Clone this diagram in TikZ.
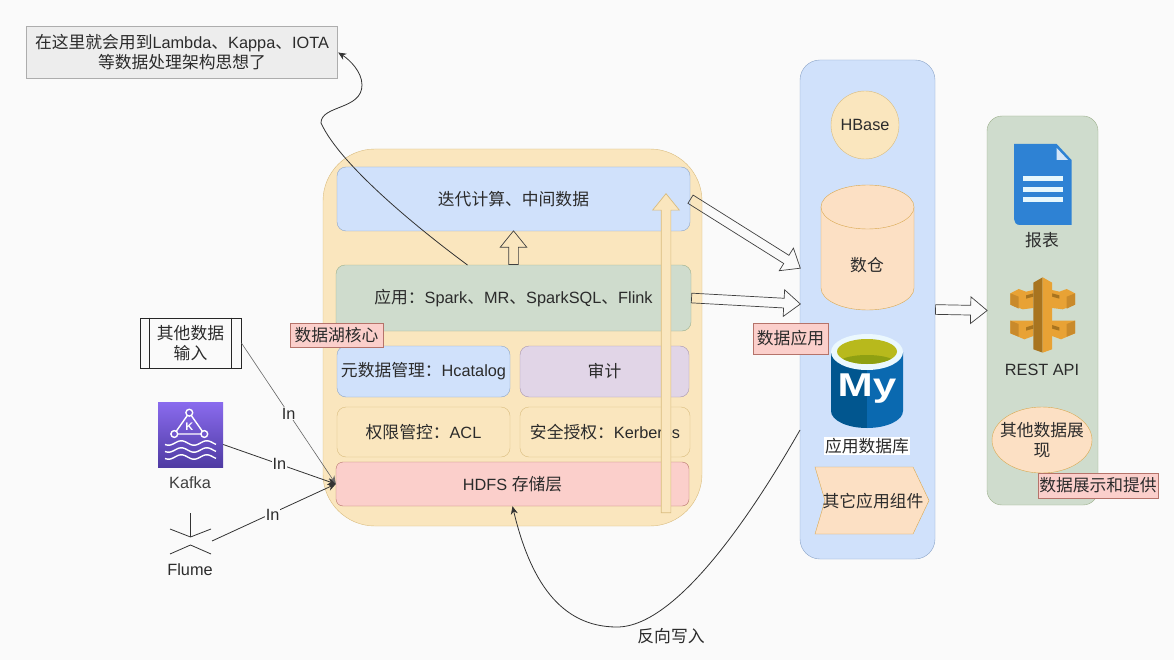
\documentclass[tikz,border=0pt]{standalone}
\usepackage{fontspec}
\setmainfont{Liberation Sans}
\newfontfamily\cjk[Scale=1.03]{Noto Sans CJK SC}
\usepackage{tikz}
\usetikzlibrary{arrows.meta}
\usetikzlibrary{calc}
\usetikzlibrary{shapes.arrows}
\usetikzlibrary{shapes.geometric}
\usetikzlibrary{positioning}

\definecolor{pagebg}{HTML}{FAFAFA}
\definecolor{lakefill}{HTML}{FAE6BE}
\definecolor{lakeline}{HTML}{D9BC7E}
\definecolor{bluefill}{HTML}{D0E1FB}
\definecolor{blueline}{HTML}{8CA5C8}
\definecolor{greenfill}{HTML}{CFDCCD}
\definecolor{greenline}{HTML}{9DB08C}
\definecolor{purplefill}{HTML}{E1D5E7}
\definecolor{purpleline}{HTML}{A896B0}
\definecolor{redfill}{HTML}{FBCFCB}
\definecolor{redline}{HTML}{B5736A}
\definecolor{peachfill}{HTML}{FCE0C4}
\definecolor{peachline}{HTML}{D9A850}
\definecolor{inktext}{HTML}{2B2B2B}
\definecolor{kafkatop}{HTML}{8A6BEE}
\definecolor{kafkalow}{HTML}{4F3BA3}
\definecolor{mydark}{HTML}{01568F}
\definecolor{mylight}{HTML}{0A69B0}
\definecolor{olivetop}{HTML}{B8B91C}
\definecolor{olivelow}{HTML}{8FA012}
\definecolor{docblue}{HTML}{2E82D4}
\definecolor{docfold}{HTML}{D5E6F8}
\definecolor{apilight}{HTML}{E8A235}
\definecolor{apimid}{HTML}{C98A2B}
\definecolor{apidark}{HTML}{A8741F}

\newcommand{\zh}[1]{{\cjk #1}}
\newcommand{\flowarrow}[3][]{%
  \path let \p1=($(#3)-(#2)$), \n1={veclen(\x1,\y1)}, \n2={atan2(\y1,\x1)} in
    node[blockarrow,#1,minimum height=\n1,rotate=\n2,anchor=tail] at (#2) {};}

\tikzset{
  panel/.style={draw,rounded corners=#1,inner sep=0pt,align=center,text=inktext},
  bluebox/.style={panel=9pt,fill=bluefill,draw=blueline},
  greenbox/.style={panel=9pt,fill=greenfill,draw=greenline},
  purplebox/.style={panel=9pt,fill=purplefill,draw=purpleline},
  lakebox/.style={panel=9pt,fill=lakefill,draw=lakeline},
  redbox/.style={panel=7pt,fill=redfill,draw=redline},
  tagbox/.style={draw=redline,fill=redfill,inner sep=0pt,text=inktext},
  plaintext/.style={inner sep=0pt,text=inktext},
  blockarrow/.style={single arrow,draw=black!75,inner xsep=0pt,inner ysep=4.5pt,minimum width=26pt,
    single arrow head extend=8.5pt,single arrow tip angle=78,line width=.7pt},
  inlabel/.style={fill=pagebg,inner sep=1pt,text=inktext},
  thinline/.style={draw=black!80,line width=.8pt},
  tipline/.style={thinline,-{Stealth[length=8pt,width=7pt]}}
}

\begin{document}
\begin{tikzpicture}[x=1pt,y=-1pt,every node/.style={font=\fontsize{16.3}{20}\selectfont}]
\useasboundingbox (0,0) rectangle (1174,660);
\fill[pagebg] (0,0) rectangle (1174,660);

\node[draw=black!32,fill=black!7,line width=1.4pt,minimum width=311pt,minimum height=52pt,
  inner sep=0pt,align=center,text=inktext] (note) at (182,52.5)
  {\zh{在这里就会用到}Lambda\zh{、}Kappa\zh{、}IOTA\\\zh{等数据处理架构思想了}};

% data lake
\node[panel=52pt,fill=lakefill,draw=lakeline,minimum width=379pt,minimum height=377pt] (lake) at (512.5,337.5) {};
\node[bluebox,minimum width=353pt,minimum height=64pt] (iter) at (513.5,199) {\zh{迭代计算、中间数据}};
\node[greenbox,minimum width=355pt,minimum height=66pt] (app) at (513.5,298) {\zh{应用：}Spark\zh{、}MR\zh{、}SparkSQL\zh{、}Flink};
\node[bluebox,minimum width=173pt,minimum height=51pt] (meta) at (423.5,371.5) {\zh{元数据管理：}Hcatalog};
\node[purplebox,minimum width=169pt,minimum height=51pt] (audit) at (604.5,371.5) {\zh{审计}};
\node[lakebox,minimum width=173pt,minimum height=50pt] (acl) at (423.5,432) {\zh{权限管控：}ACL};
\node[lakebox,minimum width=170pt,minimum height=50pt] (auth) at (605,432) {\zh{安全授权：}Kerberos};
\node[redbox,minimum width=353pt,minimum height=44pt] (hdfs) at (512.5,484) {HDFS \zh{存储层}};
\node[tagbox,minimum width=93pt,minimum height=24pt] (laketag) at (336.5,335) {\zh{数据湖核心}};

% inputs
\node[draw=black!85,line width=.9pt,minimum width=101pt,minimum height=50pt,inner sep=0pt,
  align=center,text=inktext] (other) at (190.5,343) {\zh{其他数据}\\\zh{输入}};
\draw[black!85,line width=.9pt] ($(other.north west)+(10,0)$) -- ($(other.south west)+(10,0)$);
\draw[black!85,line width=.9pt] ($(other.north east)+(-10,0)$) -- ($(other.south east)+(-10,0)$);

\node[top color=kafkatop,bottom color=kafkalow,minimum size=65pt,inner sep=0pt] (kafka) at (190.5,434.5) {};
\begin{scope}[white,line width=1.4pt]
\draw (189.3,412.7) -- (174.3,434) -- (204.3,434) -- cycle;
\foreach \px/\py in {189.3/412.7,174.3/434,204.3/434}
  \draw[fill=kafkatop!60!kafkalow] (\px,\py) circle (3.4pt);
\node[font=\fontsize{11}{12}\selectfont\bfseries,inner sep=0pt] (kafkak) at (189.3,427) {K};
\foreach \wy in {443,450,457}
  \draw plot[domain=165:216,samples=60,smooth] (\x,{\wy+2.2*sin((\x-165)*14.12+40)});
\end{scope}
\node[plaintext,text=black!75] (kafkalabel) at (190,483) {Kafka};

\coordinate (flumetop) at (190.5,513);
\coordinate (flumemid) at (190.5,537);
\coordinate (flumeout) at (212,541);
\draw[thinline] (flumetop) -- (flumemid);
\draw[thinline] (170,529) -- (flumemid) -- (211,529);
\draw[thinline] (170,554) -- (190.5,545) -- (211,554);
\node[plaintext] (flume) at (190,570) {Flume};

\draw[tipline,draw=black!60,line width=.6pt] (other.east) -- (hdfs.west) node[inlabel,midway] (in1) {In};
\draw[tipline] (kafka.-17) -- (hdfs.west) node[inlabel,midway] (in2) {In};
\draw[tipline] (flumeout) -- (hdfs.west) node[inlabel,pos=.49,yshift=-2pt] (in3) {In};

% application data
\node[panel=20pt,fill=bluefill,draw=blueline,minimum width=135pt,minimum height=499pt] (appdata) at (867.5,309.5) {};
\node[circle,fill=lakefill,draw=lakeline,minimum size=68pt,inner sep=0pt,text=inktext] (hbase) at (865,125) {HBase};

\filldraw[fill=peachfill,draw=peachline] (821,207) -- (821,288) arc[start angle=180,end angle=0,x radius=46.5,y radius=22]
  -- (914,207) -- cycle;
\filldraw[fill=peachfill,draw=peachline] (867.5,207) ellipse (46.5pt and 22pt);
\node[plaintext] (warehouse) at (867,265) {\zh{数仓}};

% mysql icon
\fill[mydark] (831,352) -- (831,411) arc[start angle=180,end angle=90,x radius=36,y radius=17] -- (867,352) -- cycle;
\fill[mylight] (867,352) -- (867,428) arc[start angle=90,end angle=0,x radius=36,y radius=17] -- (903,352) -- cycle;
\fill[white!92!cyan] (867,352) ellipse (36pt and 18pt);
\fill[olivetop] (867,351.5) ellipse (30pt and 12.5pt);
\begin{scope}
\clip (867,351.5) ellipse (30pt and 12.5pt);
\fill[olivelow] (867,364) ellipse (30pt and 9pt);
\end{scope}
\node[white,font=\fontsize{33}{33}\selectfont\bfseries,xscale=1.28,inner sep=0pt] (mysqlmark) at (867,389) {My};
\node[fill=white,inner sep=1pt,text=inktext] (mysql) at (867,446) {\zh{应用数据库}};

\filldraw[fill=peachfill,draw=peachline] (815,467) -- (913,467) -- (929,500.5) -- (913,534) -- (815,534) -- (825,500.5) -- cycle;
\node[plaintext] (steplabel) at (873,501) {\zh{其它应用组件}};
\node[tagbox,minimum width=75pt,minimum height=31pt] (apptag) at (790.5,338.5) {\zh{数据应用}};

% presentation
\node[panel=15pt,fill=greenfill,draw=greenline,minimum width=111pt,minimum height=389pt] (show) at (1042.5,310.5) {};
\fill[docblue] (1014,144) -- (1056.7,144) -- (1071.5,160) -- (1071.5,225) -- (1020,225)
  .. controls (1016,225) and (1014,222) .. (1014,219) -- cycle;
\fill[docfold] (1056.7,148) -- (1056.7,160) -- (1068,160) -- cycle;
\foreach \by in {176,186.7,197}
  \fill[white!90!cyan] (1023,\by) rectangle (1062.5,\by+5.4);
\node[plaintext] (report) at (1042,240) {\zh{报表}};

% api gateway icon
\begin{scope}[shift={(1042.7,270)},x=.3333pt,y=-.3333pt]
\foreach \sx in {1,-1} {
  \begin{scope}[xscale=\sx]
  \fill[apilight] (-97,70) -- (-72,57) -- (-50,65) -- (-28,60) -- (-28,114) -- (-60,118) -- (-97,104) -- cycle;
  \fill[apimid] (-97,70) -- (-72,80) -- (-72,116) -- (-97,104) -- cycle;
  \fill[apidark] (-50,76) -- (-28,70) -- (-28,80) -- (-50,86) -- cycle;
  \fill[apilight] (-97,152) -- (-28,152) -- (-28,198) -- (-55,208) -- (-97,190) -- cycle;
  \fill[apimid] (-97,152) -- (-72,162) -- (-72,200) -- (-97,190) -- cycle;
  \fill[apidark] (-50,172) -- (-28,165) -- (-28,176) -- (-50,182) -- cycle;
  \end{scope}
}
\fill[apidark] (-28,38) -- (0,22) -- (0,248) -- (-28,238) -- cycle;
\fill[apilight] (0,22) -- (28,38) -- (28,238) -- (0,248) -- cycle;
\end{scope}
\node[plaintext] (restapi) at (1042,370) {REST API};
\node[ellipse,fill=peachfill,draw=peachline,minimum width=100pt,minimum height=66pt,inner sep=0pt] (showother) at (1042,440) {};
\node[plaintext,align=center] (showotherlabel) at (showother) {\zh{其他数据展}\\\zh{现}};
\node[tagbox,minimum width=120pt,minimum height=25pt] (showtag) at (1098,485.5) {\zh{数据展示和提供}};

% connectors
\coordinate (noteturn) at (321,123);
\coordinate (notefrom) at (467.5,265);
\coordinate (backfrom) at (800,430);
\coordinate (backlow) at (617,627);
\coordinate (iterto) at (800,268);
\coordinate (appto) at (800,304);
\coordinate (rawfrom) at (666,513);
\coordinate (rawto) at (666,194);
\draw[tipline] (notefrom) .. controls (420,230) and (340,165) .. (noteturn)
  .. controls (321,105) and (362,110) .. (362,85) .. controls (362,72) and (350,60) .. (note.east);
\draw[tipline] (backfrom) .. controls (760,500) and (680,627) .. (backlow)
  .. controls (560,627) and (530,580) .. (hdfs.south);
\node[plaintext] (backlabel) at (671,636) {\zh{反向写入}};
\flowarrow{app.north}{iter.south}
\flowarrow{iter.east}{iterto}
\flowarrow{app.east}{appto}
\flowarrow{appdata.east}{show.west}
\flowarrow[fill=lakefill,draw=lakeline]{rawfrom}{rawto}
\end{tikzpicture}
\end{document}
